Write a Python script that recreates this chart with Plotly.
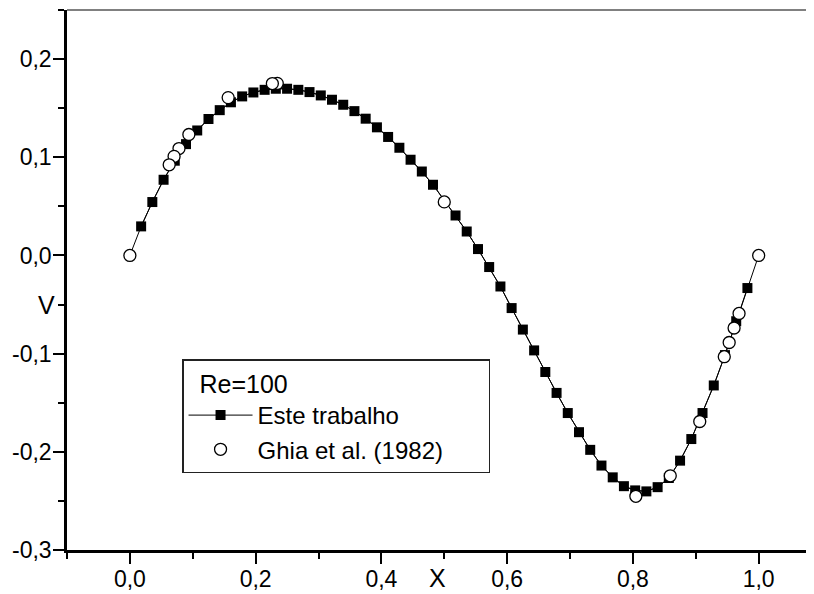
import plotly.graph_objects as go

# "Este trabalho" (present work)
x_este = [0.0179, 0.0357, 0.0536, 0.0714, 0.0893, 0.1071, 0.1250, 0.1429, 0.1607, 0.1786,
          0.1964, 0.2143, 0.2321, 0.2500, 0.2679, 0.2857, 0.3036, 0.3214, 0.3393, 0.3571,
          0.3750, 0.3929, 0.4107, 0.4286, 0.4464, 0.4643, 0.4821, 0.5179, 0.5357, 0.5536,
          0.5714, 0.5893, 0.6071, 0.6250, 0.6429, 0.6607, 0.6786, 0.6964, 0.7143, 0.7321,
          0.7500, 0.7679, 0.7857, 0.8036, 0.8214, 0.8393, 0.8571, 0.8750, 0.8929, 0.9107,
          0.9286, 0.9464, 0.9643, 0.9821]
y_este = [0.0296, 0.0544, 0.0771, 0.0965, 0.1134, 0.1273, 0.1390, 0.1480, 0.1560, 0.1620,
          0.1660, 0.1687, 0.1698, 0.1698, 0.1687, 0.1664, 0.1630, 0.1586, 0.1535, 0.1470,
          0.1393, 0.1305, 0.1207, 0.1097, 0.0975, 0.0855, 0.0720, 0.0407, 0.0244, 0.0065,
          -0.0118, -0.0316, -0.0536, -0.0755, -0.0967, -0.1187, -0.1400, -0.1605, -0.1800, -0.1980,
          -0.2140, -0.2260, -0.2350, -0.2393, -0.2403, -0.2360, -0.2267, -0.2090, -0.1870, -0.1605,
          -0.1324, -0.1015, -0.0670, -0.0332]
# wall boundary values (line ends)
x_wall = [0.0, 1.0]
y_wall = [0.0, 0.0]

# Ghia et al. (1982)
x_ghia = [1.0000, 0.9688, 0.9609, 0.9531, 0.9453, 0.9063, 0.8594, 0.8047, 0.5000,
          0.2344, 0.2266, 0.1563, 0.0938, 0.0781, 0.0703, 0.0625, 0.0000]
y_ghia = [0.00000, -0.05906, -0.07391, -0.08864, -0.10313, -0.16914, -0.22445, -0.24533, 0.05454,
          0.17527, 0.17507, 0.16077, 0.12317, 0.10890, 0.10091, 0.09233, 0.00000]

# tick labels
x_tickvals = [0.0, 0.2, 0.4, 0.6, 0.8, 1.0]
x_ticktext = ["0,0", "0,2", "0,4", "0,6", "0,8", "1,0"]
y_tickvals = [0.2, 0.1, 0.0, -0.1, -0.2, -0.3]
y_ticktext = ["0,2", "0,1", "0,0", "-0,1", "-0,2", "-0,3"]

FONT = "Liberation Sans, Arial, sans-serif"
PAD = "\u00a0" * 6  # right padding inside the legend box

fig = go.Figure()
# connecting line including the wall points
fig.add_trace(go.Scatter(
    x=[x_wall[0]] + x_este + [x_wall[1]], y=[y_wall[0]] + y_este + [y_wall[1]],
    mode="lines", line=dict(color="black", width=1), showlegend=False, hoverinfo="skip"))
fig.add_trace(go.Scatter(
    x=x_este, y=y_este, mode="lines+markers", name="Este trabalho",
    line=dict(color="black", width=1),
    marker=dict(symbol="square", size=10, color="black", line=dict(width=0))))
fig.add_trace(go.Scatter(
    x=x_ghia, y=y_ghia, mode="markers", name="Ghia et al. (1982)" + PAD,
    marker=dict(symbol="circle", size=12, color="white", line=dict(color="black", width=1.3))))

fig.update_layout(
    width=806, height=586,
    margin=dict(l=59, r=0, t=2, b=44),
    paper_bgcolor="white", plot_bgcolor="white",
    font=dict(family=FONT, size=23, color="black"),
    showlegend=True,
    legend=dict(
        x=0.154, y=0.3537, xanchor="left", yanchor="top",
        bgcolor="white", bordercolor="#222", borderwidth=1.5,
        title=dict(text="\u00a0\u00a0Re=100", font=dict(size=25)),
        font=dict(size=24), itemwidth=64, tracegroupgap=0,
    ),
    xaxis=dict(
        range=[-0.1, 1.088], tickmode="array", tickvals=x_tickvals, ticktext=x_ticktext,
        showline=True, linecolor="black", linewidth=2.5,
        ticks="outside", ticklen=11, tickwidth=2, tickcolor="black",
        minor=dict(ticks="outside", dtick=0.1, tick0=0, ticklen=6, tickwidth=2, tickcolor="black"),
        showgrid=False, zeroline=False, tickfont=dict(size=23),
        ticklabelstandoff=-4,
    ),
    yaxis=dict(
        range=[-0.3, 0.25], tickmode="array", tickvals=y_tickvals, ticktext=y_ticktext,
        showline=True, linecolor="black", linewidth=2.5,
        ticks="outside", ticklen=11, tickwidth=2, tickcolor="black",
        minor=dict(ticks="outside", dtick=0.05, tick0=0, ticklen=6, tickwidth=2, tickcolor="black"),
        showgrid=False, zeroline=False, tickfont=dict(size=23),
        ticklabelstandoff=-3,
    ),
    shapes=[dict(type="line", xref="paper", yref="paper", x0=0, x1=1, y0=1, y1=1,
                 line=dict(color="#808080", width=2))],
    annotations=[
        dict(text="X", xref="x", yref="paper", x=0.489, y=-0.052, showarrow=False,
             xanchor="center", yanchor="middle", font=dict(size=25)),
        dict(text="V", xref="paper", yref="y", x=-0.027, y=-0.05, showarrow=False,
             xanchor="center", yanchor="middle", font=dict(size=25)),
    ],
)

fig.write_html("out.html")
